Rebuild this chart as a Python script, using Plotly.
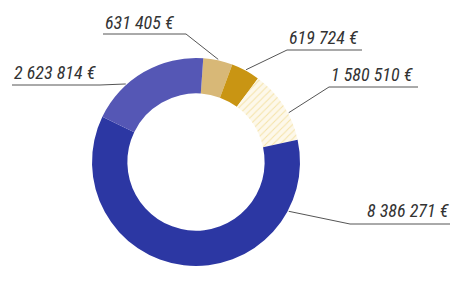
import math
import plotly.graph_objects as go

values = [631405, 619724, 1580510, 8386271, 2623814]
labels = ["631 405 €", "619 724 €", "1 580 510 €", "8 386 271 €", "2 623 814 €"]
colors = ["#D8B877", "#C99513", "#FCF5E2", "#2C37A3", "#5557B5"]
patterns = ["", "", "/", "", ""]

W, H = 454, 290
cx, cy, R = 196, 162, 104
rotation = 4

fig = go.Figure(go.Pie(
    values=values, labels=labels, sort=False, direction="clockwise",
    rotation=rotation, hole=0.66, textinfo="none", hoverinfo="label",
    marker=dict(colors=colors, line=dict(width=0),
                pattern=dict(shape=patterns, fgcolor="#F5E3A8", bgcolor="#FDF8EA",
                             size=5, solidity=0.2)),
    domain=dict(x=[(cx - R) / W, (cx + R) / W],
                y=[(H - cy - R) / H, (H - cy + R) / H]),
    showlegend=False,
))

label_pos = {
    "631 405 €": dict(tx=103, ty=22, uy=34, ux0=103, ux1=186, join="right"),
    "619 724 €": dict(tx=287, ty=37, uy=50, ux0=287, ux1=362, join="left"),
    "1 580 510 €": dict(tx=329, ty=74, uy=87, ux0=329, ux1=418, join="left"),
    "8 386 271 €": dict(tx=365, ty=210, uy=224, ux0=350, ux1=450, join="left"),
    "2 623 814 €": dict(tx=12, ty=72, uy=85, ux0=12, ux1=100, join="right"),
}
anchor_angle = {"8 386 271 €": 118, "1 580 510 €": 62, "2 623 814 €": 318}

def px(x):
    return x / W

def py(y):
    return 1 - y / H

total = sum(values)
start = rotation
shapes = []
annotations = []
for v, lab in zip(values, labels):
    span = 360 * v / total
    mid = start + span / 2
    start += span
    p = label_pos[lab]
    a = anchor_angle.get(lab, mid)
    ax = cx + (R + 1) * math.sin(math.radians(a))
    ay = cy - (R + 1) * math.cos(math.radians(a))
    jx = p["ux1"] if p["join"] == "right" else p["ux0"]
    line_style = dict(color="#555555", width=1)
    shapes.append(dict(type="line", xref="paper", yref="paper",
                       x0=px(p["ux0"]), x1=px(p["ux1"]), y0=py(p["uy"]), y1=py(p["uy"]),
                       line=line_style))
    shapes.append(dict(type="line", xref="paper", yref="paper",
                       x0=px(jx), x1=px(ax), y0=py(p["uy"]), y1=py(ay),
                       line=line_style))
    annotations.append(dict(text=lab, xref="paper", yref="paper", x=px(p["tx"]), y=py(p["ty"]),
                            xanchor="left", yanchor="middle", showarrow=False,
                            font=dict(family="Liberation Sans Narrow, Roboto Condensed, Roboto",
                                      size=18, color="#333333", style="italic")))

fig.update_layout(width=W, height=H, margin=dict(l=0, r=0, t=0, b=0),
                  paper_bgcolor="white", plot_bgcolor="white",
                  shapes=shapes, annotations=annotations)
fig.write_html("out.html", config={"displayModeBar": False},
               post_script="document.body.style.margin='0px';")
